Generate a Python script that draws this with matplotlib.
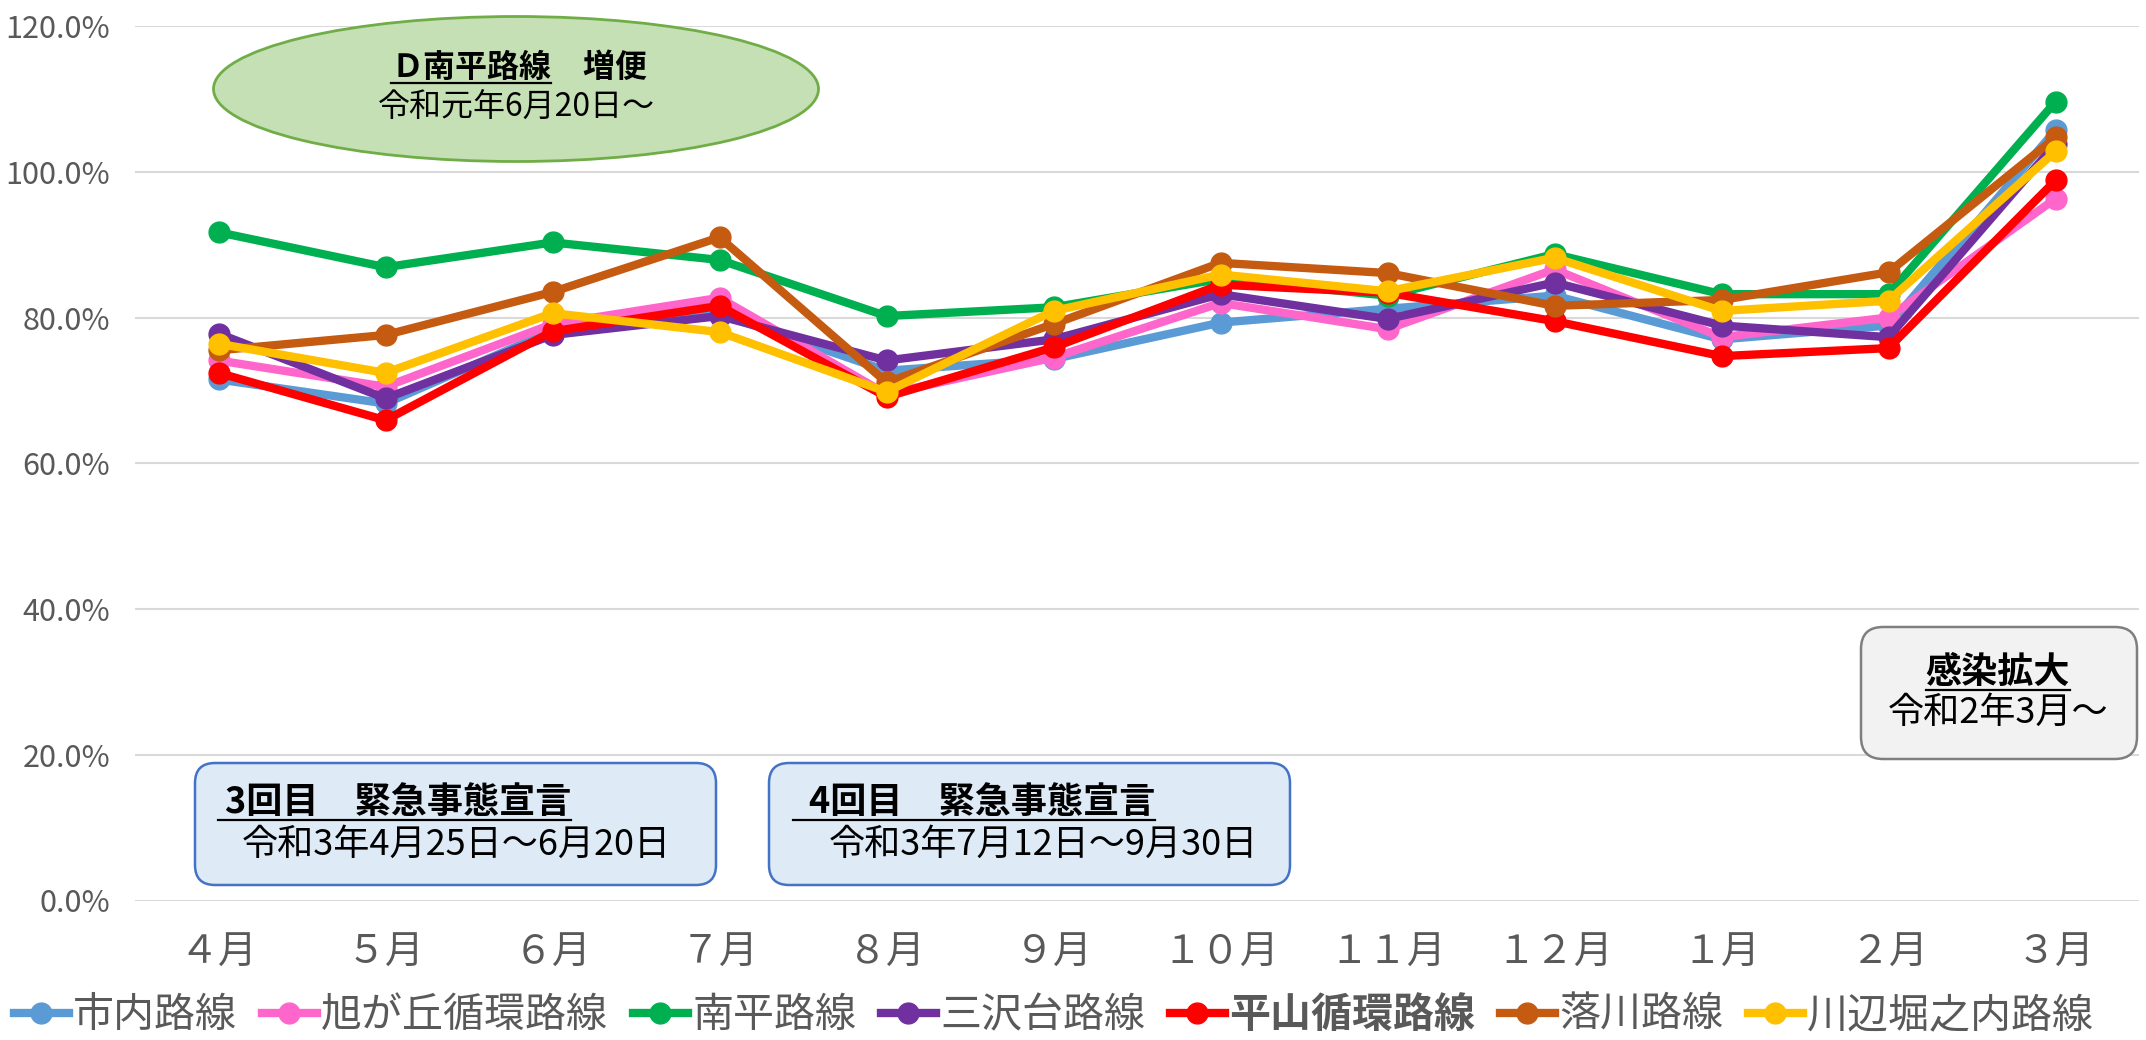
import matplotlib
matplotlib.use("Agg")
import matplotlib.pyplot as plt
from matplotlib.patches import Ellipse, FancyBboxPatch
from matplotlib.lines import Line2D
from matplotlib.ticker import FuncFormatter

plt.rcParams['font.family'] = ['Noto Sans CJK JP', 'DejaVu Sans']

# データ（前年比 %）
months = ['４月', '５月', '６月', '７月', '８月', '９月', '１０月', '１１月', '１２月', '１月', '２月', '３月']
shinai = [71.5, 68.2, 78.2, 80.5, 72.7, 74.3, 79.3, 81.2, 83.0, 77.0, 78.9, 105.7]
asahigaoka = [74.1, 70.5, 79.1, 82.7, 69.5, 74.5, 82.0, 78.4, 86.6, 77.3, 80.0, 96.3]
minamidaira = [91.7, 86.9, 90.3, 87.9, 80.2, 81.4, 85.3, 83.0, 88.7, 83.2, 83.2, 109.6]
misawadai = [77.8, 68.9, 77.6, 80.2, 74.1, 77.0, 83.2, 79.8, 84.8, 78.9, 77.3, 103.8]
hirayama = [72.4, 65.9, 78.1, 81.6, 69.1, 75.9, 84.5, 83.4, 79.5, 74.7, 75.8, 98.8]
ochikawa = [75.5, 77.6, 83.5, 91.0, 71.1, 79.1, 87.5, 86.1, 81.6, 82.4, 86.2, 104.7]
kawabe = [76.4, 72.4, 80.6, 78.0, 69.8, 80.9, 85.9, 83.6, 88.2, 80.9, 82.3, 102.8]

names = ['市内路線', '旭が丘循環路線', '南平路線', '三沢台路線', '平山循環路線', '落川路線', '川辺堀之内路線']
series = [shinai, asahigaoka, minamidaira, misawadai, hirayama, ochikawa, kawabe]
colors = ['#5B9BD5', '#FF66CC', '#00B050', '#7030A0', '#FF0000', '#C55A11', '#FFC000']

W, H = 2146, 1040
fig = plt.figure(figsize=(W / 100, H / 100), dpi=100)
ax = fig.add_axes([135 / W, 1 - 900.5 / H, 2004 / W, 874.5 / H])

x = list(range(len(months)))
for vals, name, c in zip(series, names, colors):
    ax.plot(x, vals, color=c, lw=6, marker='o', ms=15, label=name)

ax.set_xlim(-0.5, 11.5)
ax.set_ylim(0, 120)
ax.set_yticks([0, 20, 40, 60, 80, 100, 120])
ax.yaxis.set_major_formatter(FuncFormatter(lambda v, _: f"{v:.1f}%"))
ax.set_xticks(x)
ax.set_xticklabels(months)
ax.tick_params(axis='x', length=0, pad=23, labelsize=28, labelcolor='#595959')
ax.tick_params(axis='y', length=0, pad=18, labelsize=22, labelcolor='#595959')
ax.grid(axis='y', color='#D9D9D9', lw=1.5)
ax.set_axisbelow(True)
for s in ax.spines.values():
    s.set_visible(False)

leg = fig.legend(loc='center', bbox_to_anchor=(1054 / W, 1 - 1015 / H), ncol=7, frameon=False,
                 fontsize=29.5, handlelength=1.35, handletextpad=0.1, columnspacing=0.6,
                 borderaxespad=0, borderpad=0)
for t in leg.get_texts():
    t.set_color('#595959')
    if t.get_text() == '平山循環路線':
        t.set_fontweight('bold')

# 注記（ピクセル位置 → インチ）
tr = fig.dpi_scale_trans


def px(xp, yp):
    return xp / 100, (H - yp) / 100


ell = Ellipse(px(516, 89), 6.05, 1.45, transform=tr, facecolor='#C5E0B4', edgecolor='#70AD47', lw=2)
fig.add_artist(ell)

for (x0, x1), face, edge in [((195, 716), '#DEEBF7', '#4472C4'), ((769, 1290), '#DEEBF7', '#4472C4')]:
    fig.add_artist(FancyBboxPatch(px(x0, 885), (x1 - x0) / 100, 1.22, boxstyle='round,pad=0,rounding_size=0.2',
                                  transform=tr, facecolor=face, edgecolor=edge, lw=1.8))
fig.add_artist(FancyBboxPatch(px(1861, 759), 2.76, 1.32, boxstyle='round,pad=0,rounding_size=0.22',
                              transform=tr, facecolor='#F2F2F2', edgecolor='#7F7F7F', lw=1.8))

underlined = []
t = fig.text(*px(551, 68), 'Ｄ南平路線', transform=tr, ha='right', va='center', fontsize=23, fontweight='bold')
underlined.append((t, 0))
fig.text(*px(551, 68), '　増便', transform=tr, ha='left', va='center', fontsize=23, fontweight='bold')
fig.text(*px(516, 108), '令和元年6月20日～', transform=tr, ha='center', va='center', fontsize=23)

t = fig.text(*px(225, 802), '3回目　緊急事態宣言', transform=tr, ha='left', va='center', fontsize=26, fontweight='bold')
underlined.append((t, 7))
fig.text(*px(242, 845), '令和3年4月25日～6月20日', transform=tr, ha='left', va='center', fontsize=26)

t = fig.text(*px(809, 802), '4回目　緊急事態宣言', transform=tr, ha='left', va='center', fontsize=26, fontweight='bold')
underlined.append((t, 16))
fig.text(*px(829, 845), '令和3年7月12日～9月30日', transform=tr, ha='left', va='center', fontsize=26)

t = fig.text(*px(1998, 672), '感染拡大', transform=tr, ha='center', va='center', fontsize=26, fontweight='bold')
underlined.append((t, 0))
fig.text(*px(1998, 713), '令和2年3月～', transform=tr, ha='center', va='center', fontsize=26)

# 下線
fig.canvas.draw()
r = fig.canvas.get_renderer()
for t, ext in underlined:
    bb = t.get_window_extent(r)
    y = bb.y0 + 1
    fig.add_artist(Line2D([(bb.x0 - ext) / W, bb.x1 / W], [y / H, y / H], transform=fig.transFigure,
                          color='black', lw=1.6))

fig.savefig('out.png', dpi=100, facecolor='white')
